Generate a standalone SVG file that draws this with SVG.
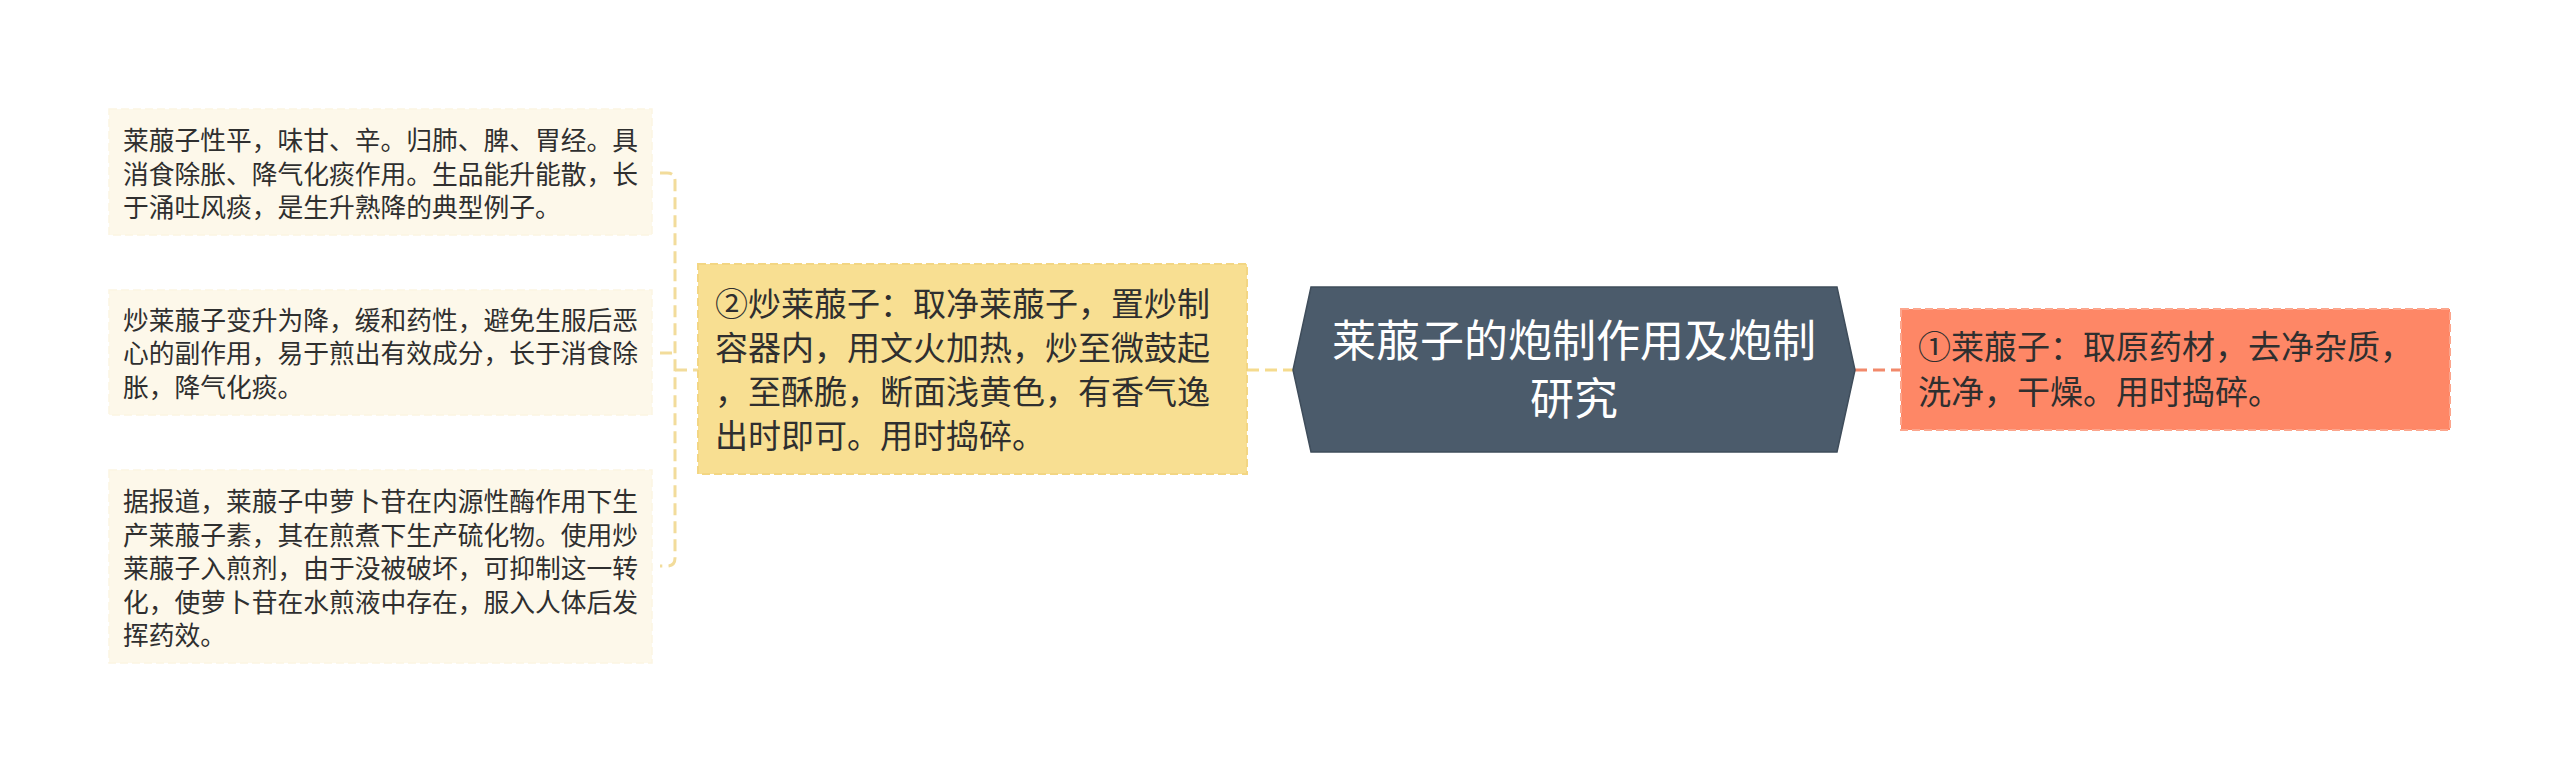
<svg xmlns="http://www.w3.org/2000/svg" width="2560" height="773" viewBox="0 0 2560 773">
<style>
text{font-family:"Noto Sans CJK SC","Noto Sans",sans-serif;}
.leaf rect{fill:#fdf8ea;stroke:#fcf5e2;stroke-width:1.5;stroke-dasharray:8 4;}
.leaf text{font-size:25.75px;fill:#2f2f2f;}
.mid text{font-size:33px;fill:#2f2f2f;}
.conn{fill:none;stroke-width:3;stroke-dasharray:12 6;}
</style>
<rect width="2560" height="773" fill="#ffffff"/>
<g id="connectors">
<path class="conn" d="M660,173 H667 Q675,173 675,181 V558 Q675,566 667,566 H660" stroke="#f2dc9b" stroke-width="2"/>
<path class="conn" d="M660,353 H675" stroke="#f2dc9b" stroke-width="2"/>
<path class="conn" d="M675,370 H698" stroke="#f2dc9b" stroke-width="2"/>
<path class="conn" d="M1247,370 H1293" stroke="#f5db8e"/>
<path class="conn" d="M1855,370 H1901" stroke="#f2896b" stroke-dasharray="32 6 8 6"/>
</g>
<g id="root">
<polygon points="1311,287 1837,287 1855,370 1837,452 1311,452 1293,370" fill="#4b5b6b" stroke="#3f4d5b" stroke-width="1.5"/>
<text x="1574" y="357" font-size="44" fill="#ffffff" text-anchor="middle">莱菔子的炮制作用及炮制</text>
<text x="1574" y="415" font-size="44" fill="#ffffff" text-anchor="middle">研究</text>
</g>
<g id="node-raw" class="mid">
<rect x="1901" y="309" width="549" height="121" fill="#fe8766" stroke="#fca58c" stroke-width="2" stroke-dasharray="8 4"/>
<text x="1918" y="359">①莱菔子：取原药材，去净杂质，</text>
<text x="1918" y="404">洗净，干燥。用时捣碎。</text>
</g>
<g id="node-fried" class="mid">
<rect x="698" y="264" width="549" height="210" fill="#f8df92" stroke="#f3d683" stroke-width="2" stroke-dasharray="8 4"/>
<text x="715" y="316">②炒莱菔子：取净莱菔子，置炒制</text>
<text x="715" y="360">容器内，用文火加热，炒至微鼓起</text>
<text x="715" y="404">，至酥脆，断面浅黄色，有香气逸</text>
<text x="715" y="448">出时即可。用时捣碎。</text>
</g>
<g id="leaf-1" class="leaf">
<rect x="109" y="109" width="543" height="126"/>
<text x="123" y="150">莱菔子性平，味甘、辛。归肺、脾、胃经。具</text>
<text x="123" y="184">消食除胀、降气化痰作用。生品能升能散，长</text>
<text x="123" y="217">于涌吐风痰，是生升熟降的典型例子。</text>
</g>
<g id="leaf-2" class="leaf">
<rect x="109" y="290" width="543" height="125"/>
<text x="123" y="330">炒莱菔子变升为降，缓和药性，避免生服后恶</text>
<text x="123" y="363">心的副作用，易于煎出有效成分，长于消食除</text>
<text x="123" y="397">胀，降气化痰。</text>
</g>
<g id="leaf-3" class="leaf">
<rect x="109" y="470" width="543" height="193"/>
<text x="123" y="511">据报道，莱菔子中萝卜苷在内源性酶作用下生</text>
<text x="123" y="545">产莱菔子素，其在煎煮下生产硫化物。使用炒</text>
<text x="123" y="578">莱菔子入煎剂，由于没被破坏，可抑制这一转</text>
<text x="123" y="612">化，使萝卜苷在水煎液中存在，服入人体后发</text>
<text x="123" y="645">挥药效。</text>
</g>
</svg>
